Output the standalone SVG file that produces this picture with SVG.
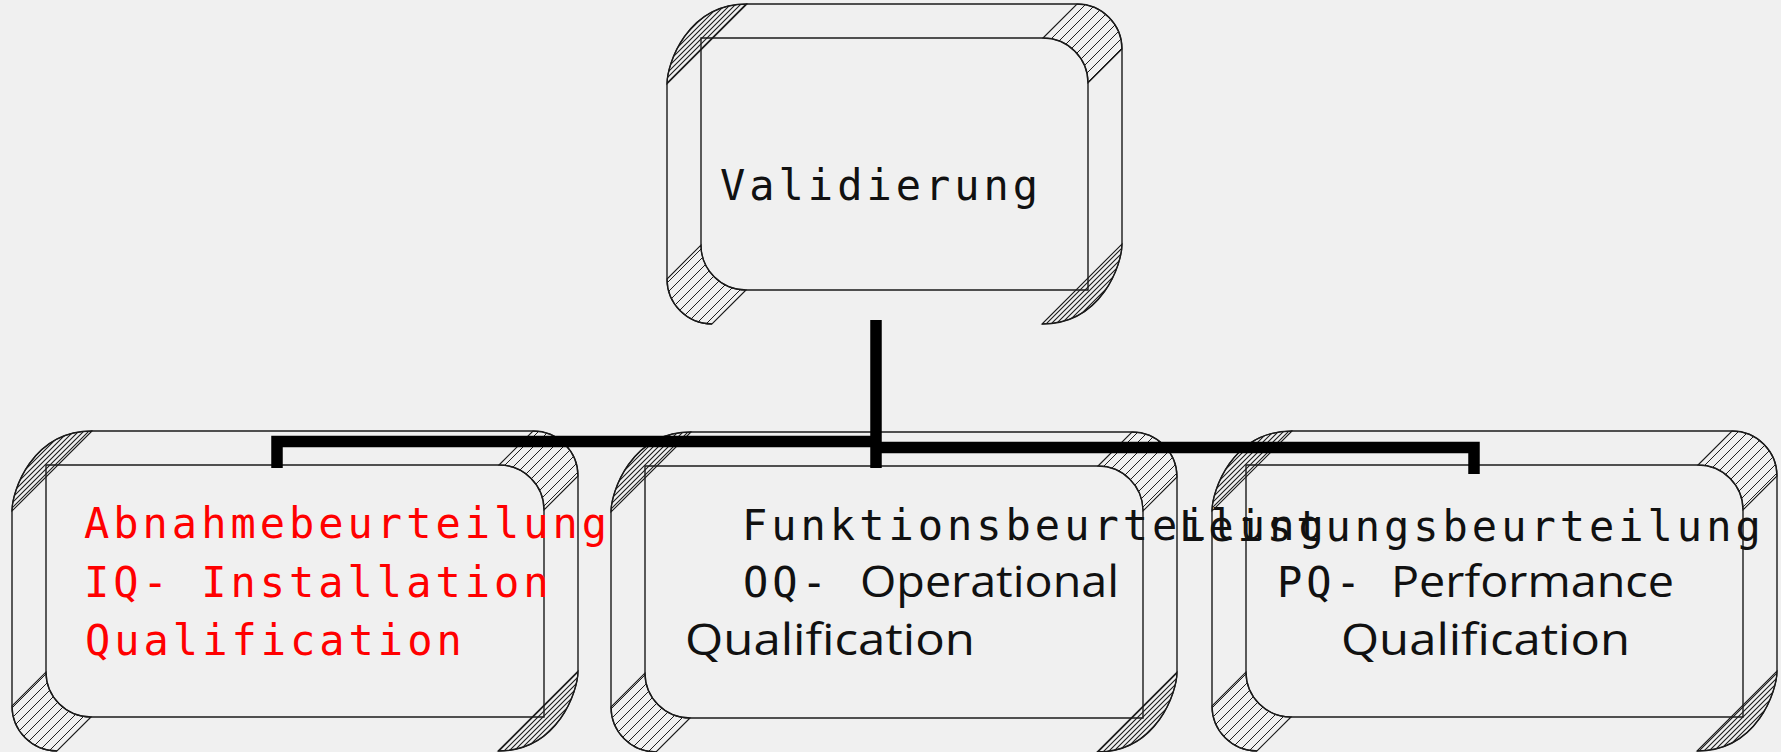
<svg xmlns="http://www.w3.org/2000/svg" width="1781" height="752" viewBox="0 0 1781 752">
  <defs>
    <!-- diagonal hatching for the bevelled corners -->
    <pattern id="hatch" width="10" height="10" patternUnits="userSpaceOnUse">
      <path d="M-1,1 L1,-1 M0,10 L10,0 M9,11 L11,9" stroke="#1e1e1e" stroke-width="1"/>
    </pattern>
    <pattern id="hatchFine" width="5" height="5" patternUnits="userSpaceOnUse">
      <path d="M-1,1 L1,-1 M0,5 L5,0 M4,6 L6,4" stroke="#1a1a1a" stroke-width="1.1"/>
    </pattern>
    <style>
      .outline { fill: none; stroke: #1a1a1a; stroke-width: 1.4; }
      .corner { fill: url(#hatch); stroke: #1a1a1a; stroke-width: 1.1; }
      .lens { fill: url(#hatchFine); stroke: #1a1a1a; stroke-width: 1.1; }
      .mono { font-family: "DejaVu Sans Mono", "Liberation Mono", monospace; font-size: 42px; letter-spacing: 4px; fill: #111; }
      .sans { font-family: "Open Sans", "DejaVu Sans", sans-serif; font-size: 43px; fill: #111; }
      .red { fill: #ff0000; }
      .link { fill: none; stroke: #000; stroke-width: 11.5; stroke-linejoin: miter; }
    </style>
  </defs>

  <rect width="1781" height="752" fill="#f0f0f0"/>

  <!-- top node -->
  <g id="validierung">
    <path class="corner" d="M1043,38 L1077,4 A45 45 0 0 1 1122,49 L1088,83 A45 45 0 0 0 1043,38 Z"/>
    <path class="corner" d="M746,290 L712,324 A45 45 0 0 1 667,279 L701,245 A45 45 0 0 0 746,290 Z"/>
    <path class="lens" d="M667,84 C667,64 687,4 747,4 Z"/>
    <path class="lens" d="M1122,244 C1122,264 1102,324 1042,324 Z"/>
    <path class="outline" d="M712,324 A45 45 0 0 1 667,279 L667,84 C667,64 687,4 747,4 L1077,4 A45 45 0 0 1 1122,49 L1122,244 C1122,264 1102,324 1042,324"/>
    <path class="outline" d="M701,38 L1043,38 A45 45 0 0 1 1088,83 L1088,290 L746,290 A45 45 0 0 1 701,245 Z"/>
    <text class="mono" x="720" y="200">Validierung</text>
  </g>

  <!-- installation qualification -->
  <g id="iq">
    <path class="corner" d="M499,465 L533,431 A45 45 0 0 1 578,476 L544,510 A45 45 0 0 0 499,465 Z"/>
    <path class="corner" d="M91,717 L57,751 A45 45 0 0 1 12,706 L46,672 A45 45 0 0 0 91,717 Z"/>
    <path class="lens" d="M12,511 C12,491 32,431 92,431 Z"/>
    <path class="lens" d="M578,671 C578,691 558,751 498,751 Z"/>
    <path class="outline" d="M57,751 A45 45 0 0 1 12,706 L12,511 C12,491 32,431 92,431 L533,431 A45 45 0 0 1 578,476 L578,671 C578,691 558,751 498,751"/>
    <path class="outline" d="M46,465 L499,465 A45 45 0 0 1 544,510 L544,717 L91,717 A45 45 0 0 1 46,672 Z"/>
    <text class="mono red" x="84" y="538">Abnahmebeurteilung</text>
    <text class="mono red" x="84" y="597">IQ- Installation</text>
    <text class="mono red" x="85" y="655">Qualification</text>
  </g>

  <!-- operational qualification -->
  <g id="oq">
    <path class="corner" d="M1098,466 L1132,432 A45 45 0 0 1 1177,477 L1143,511 A45 45 0 0 0 1098,466 Z"/>
    <path class="corner" d="M690,718 L656,752 A45 45 0 0 1 611,707 L645,673 A45 45 0 0 0 690,718 Z"/>
    <path class="lens" d="M611,512 C611,492 631,432 691,432 Z"/>
    <path class="lens" d="M1177,672 C1177,692 1157,752 1097,752 Z"/>
    <path class="outline" d="M656,752 A45 45 0 0 1 611,707 L611,512 C611,492 631,432 691,432 L1132,432 A45 45 0 0 1 1177,477 L1177,672 C1177,692 1157,752 1097,752"/>
    <path class="outline" d="M645,466 L1098,466 A45 45 0 0 1 1143,511 L1143,718 L690,718 A45 45 0 0 1 645,673 Z"/>
    <text class="mono" x="742" y="540">Funktionsbeurteilung</text>
    <text class="mono" x="743" y="597">OQ-</text>
    <text class="sans" x="860" y="597" textLength="259" lengthAdjust="spacingAndGlyphs">Operational</text>
    <text class="sans" x="685" y="655" textLength="290" lengthAdjust="spacingAndGlyphs">Qualification</text>
  </g>

  <!-- performance qualification -->
  <g id="pq">
    <path class="corner" d="M1698,465 L1732,431 A45 45 0 0 1 1777,476 L1743,510 A45 45 0 0 0 1698,465 Z"/>
    <path class="corner" d="M1291,717 L1257,751 A45 45 0 0 1 1212,706 L1246,672 A45 45 0 0 0 1291,717 Z"/>
    <path class="lens" d="M1212,511 C1212,491 1232,431 1292,431 Z"/>
    <path class="lens" d="M1777,671 C1777,691 1757,751 1697,751 Z"/>
    <path class="outline" d="M1257,751 A45 45 0 0 1 1212,706 L1212,511 C1212,491 1232,431 1292,431 L1732,431 A45 45 0 0 1 1777,476 L1777,671 C1777,691 1757,751 1697,751"/>
    <path class="outline" d="M1246,465 L1698,465 A45 45 0 0 1 1743,510 L1743,717 L1291,717 A45 45 0 0 1 1246,672 Z"/>
    <text class="mono" x="1179" y="541">Leistungsbeurteilung</text>
    <text class="mono" x="1277" y="597">PQ-</text>
    <text class="sans" x="1391" y="597" textLength="283" lengthAdjust="spacingAndGlyphs">Performance</text>
    <text class="sans" x="1341" y="655" textLength="289" lengthAdjust="spacingAndGlyphs">Qualification</text>
  </g>

  <!-- tree connectors -->
  <g id="connectors">
    <path class="link" d="M876,320 L876,468"/>
    <path class="link" d="M277,468 L277,441.5 L876,441.5"/>
    <path class="link" d="M876,447.5 L1474,447.5 L1474,474"/>
  </g>
</svg>
